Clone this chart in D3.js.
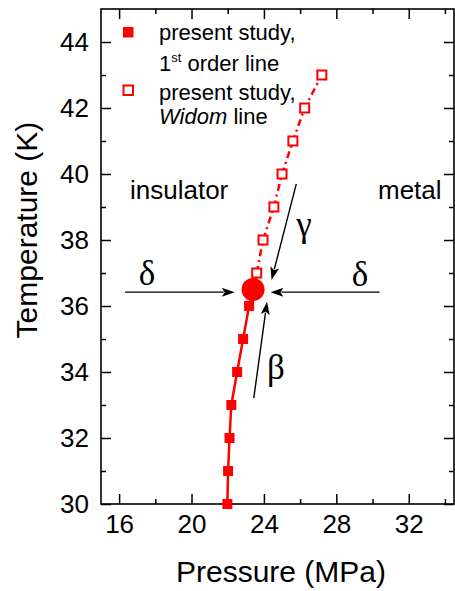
<!DOCTYPE html>
<html>
<head>
<meta charset="utf-8">
<script src="https://cdn.jsdelivr.net/npm/d3@7"></script>
<style>
  html, body { margin: 0; padding: 0; background: #fff; }
  svg { display: block; }
  text { font-family: "Liberation Sans", Arial, sans-serif; fill: #000; }
</style>
</head>
<body>
<svg id="chart" width="455" height="591"></svg>
<script>
// First-order transition line (filled squares)
const firstOrderT = [30, 31, 32, 33, 34, 35, 36];
const firstOrderP = [21.98, 22.02, 22.1, 22.2, 22.52, 22.85, 23.18];

// Critical end point
const criticalP = 23.4;
const criticalT = 36.5;

// Widom line (open squares)
const widomT = [37, 38, 39, 40, 41, 42, 43];
const widomP = [23.6, 23.95, 24.55, 25.0, 25.6, 26.25, 27.2];

// Axis ticks
const xMajorTicks = [16, 20, 24, 28, 32];
const xMinorTicks = [18, 22, 26, 30, 34];
const yMajorTicks = [30, 32, 34, 36, 38, 40, 42, 44];
const yMinorTicks = [31, 33, 35, 37, 39, 41, 43];

// Critical-exponent arrows: [P tail, T tail, P tip, T tip]
const arrows = [
  [16.33, 36.42, 22.39, 36.42],
  [30.39, 36.42, 24.36, 36.42],
  [25.79, 39.70, 24.42, 36.79],
  [23.44, 33.21, 24.17, 36.13]
];
const arrowLabels = ["δ", "δ", "γ", "β"];

const svg = d3.select("#chart");
const x = d3.scaleLinear().domain([15, 34.5]).range([101, 454]);
const y = d3.scaleLinear().domain([30, 45]).range([504, 9]);
const red = "#ff0000";

// Frame
svg.append("rect")
  .attr("x", x(15)).attr("y", y(45))
  .attr("width", x(34.5) - x(15)).attr("height", y(30) - y(45))
  .attr("fill", "none").attr("stroke", "#000").attr("stroke-width", 1.6);

function styleAxis(g) {
  g.select(".domain").remove();
  g.selectAll("line").attr("stroke", "#000").attr("stroke-width", 1.5);
  g.selectAll("text").style("font-size", "26px")
    .style("font-family", "'Liberation Sans', Arial, sans-serif");
}

// Bottom axis
svg.append("g").attr("transform", `translate(0,${y(30)})`)
  .call(d3.axisBottom(x).tickValues(xMajorTicks).tickSize(-10).tickPadding(11).tickFormat(d3.format("d")))
  .call(styleAxis);
svg.append("g").attr("transform", `translate(0,${y(30)})`)
  .call(d3.axisBottom(x).tickValues(xMinorTicks).tickSize(-5).tickFormat(""))
  .call(styleAxis);
// Top axis
svg.append("g").attr("transform", `translate(0,${y(45)})`)
  .call(d3.axisTop(x).tickValues(xMajorTicks).tickSize(-10).tickFormat(""))
  .call(styleAxis);
svg.append("g").attr("transform", `translate(0,${y(45)})`)
  .call(d3.axisTop(x).tickValues(xMinorTicks).tickSize(-5).tickFormat(""))
  .call(styleAxis);
// Left axis
svg.append("g").attr("transform", `translate(${x(15)},0)`)
  .call(d3.axisLeft(y).tickValues(yMajorTicks).tickSize(-10).tickPadding(12).tickFormat(d3.format("d")))
  .call(styleAxis);
svg.append("g").attr("transform", `translate(${x(15)},0)`)
  .call(d3.axisLeft(y).tickValues(yMinorTicks).tickSize(-5).tickFormat(""))
  .call(styleAxis);
// Right axis
svg.append("g").attr("transform", `translate(${x(34.5)},0)`)
  .call(d3.axisRight(y).tickValues(yMajorTicks).tickSize(-10).tickFormat(""))
  .call(styleAxis);
svg.append("g").attr("transform", `translate(${x(34.5)},0)`)
  .call(d3.axisRight(y).tickValues(yMinorTicks).tickSize(-5).tickFormat(""))
  .call(styleAxis);

// Axis titles
svg.append("text")
  .attr("x", 281).attr("y", 582)
  .attr("text-anchor", "middle")
  .style("font-size", "30px")
  .text("Pressure (MPa)");
svg.append("text")
  .attr("transform", "translate(37,230) rotate(-90)")
  .attr("text-anchor", "middle")
  .style("font-size", "30px")
  .text("Temperature (K)");

// Data
const firstOrder = firstOrderT.map((t, i) => ({ p: firstOrderP[i], t }));
const widom = widomT.map((t, i) => ({ p: widomP[i], t }));
const crit = { p: criticalP, t: criticalT };

const line = d3.line().x(d => x(d.p)).y(d => y(d.t));

svg.append("path")
  .datum([...firstOrder, crit])
  .attr("d", line)
  .attr("fill", "none").attr("stroke", red).attr("stroke-width", 2.5);

svg.append("path")
  .datum([crit, ...widom])
  .attr("d", line)
  .attr("fill", "none").attr("stroke", red).attr("stroke-width", 2.5)
  .attr("stroke-dasharray", "7,4,2,4");

const sq = 10;
svg.append("g").selectAll("rect").data(firstOrder).join("rect")
  .attr("x", d => x(d.p) - sq / 2).attr("y", d => y(d.t) - sq / 2)
  .attr("width", sq).attr("height", sq)
  .attr("fill", red);

const osq = 9;
svg.append("g").selectAll("rect").data(widom).join("rect")
  .attr("x", d => x(d.p) - osq / 2).attr("y", d => y(d.t) - osq / 2)
  .attr("width", osq).attr("height", osq)
  .attr("fill", "#fff").attr("stroke", red).attr("stroke-width", 2);

svg.append("circle")
  .attr("cx", x(crit.p)).attr("cy", y(crit.t)).attr("r", 11.5)
  .attr("fill", red);

// Arrows
const headLen = 13, headHalf = 4.5;
arrows.forEach((a, i) => {
  const x0 = x(a[0]), y0 = y(a[1]), x1 = x(a[2]), y1 = y(a[3]);
  const dx = x1 - x0, dy = y1 - y0, L = Math.hypot(dx, dy);
  const ux = dx / L, uy = dy / L;
  const bx = x1 - ux * headLen, by = y1 - uy * headLen;
  svg.append("line")
    .attr("x1", x0).attr("y1", y0).attr("x2", bx + ux * 2).attr("y2", by + uy * 2)
    .attr("stroke", "#000").attr("stroke-width", 1.4);
  svg.append("path")
    .attr("d", `M${x1},${y1}L${bx - uy * headHalf},${by + ux * headHalf}L${bx + ux * 3},${by + uy * 3}L${bx + uy * headHalf},${by - ux * headHalf}Z`)
    .attr("fill", "#000");
});

// Greek labels
const greekPos = [[147, 285], [360, 286], [304, 236], [276, 379]];
greekPos.forEach((p, i) => {
  svg.append("text")
    .attr("x", p[0]).attr("y", p[1])
    .attr("text-anchor", "middle")
    .style("font-family", "'Liberation Serif', 'Times New Roman', serif")
    .style("font-size", "35px")
    .text(arrowLabels[i]);
});

// Region labels
svg.append("text").attr("x", 130).attr("y", 199).style("font-size", "26px").text("insulator");
svg.append("text").attr("x", 378).attr("y", 199).style("font-size", "26px").text("metal");

// Legend
svg.append("rect").attr("x", 123).attr("y", 27).attr("width", 10.5).attr("height", 10.5).attr("fill", red);
svg.append("rect").attr("x", 123.5).attr("y", 85.5).attr("width", 9.5).attr("height", 9.5)
  .attr("fill", "#fff").attr("stroke", red).attr("stroke-width", 2);

svg.append("text").attr("x", 159).attr("y", 40).style("font-size", "22px").text("present study,");
const t2 = svg.append("text").attr("x", 159).attr("y", 71).style("font-size", "22px");
t2.append("tspan").text("1");
t2.append("tspan").attr("dy", -9).style("font-size", "13px").text("st");
t2.append("tspan").attr("dy", 9).text(" order line");
svg.append("text").attr("x", 159).attr("y", 100).style("font-size", "22px").text("present study,");
const t4 = svg.append("text").attr("x", 159).attr("y", 124).style("font-size", "22px");
t4.append("tspan").style("font-style", "italic").text("Widom");
t4.append("tspan").text(" line");
</script>
</body>
</html>
